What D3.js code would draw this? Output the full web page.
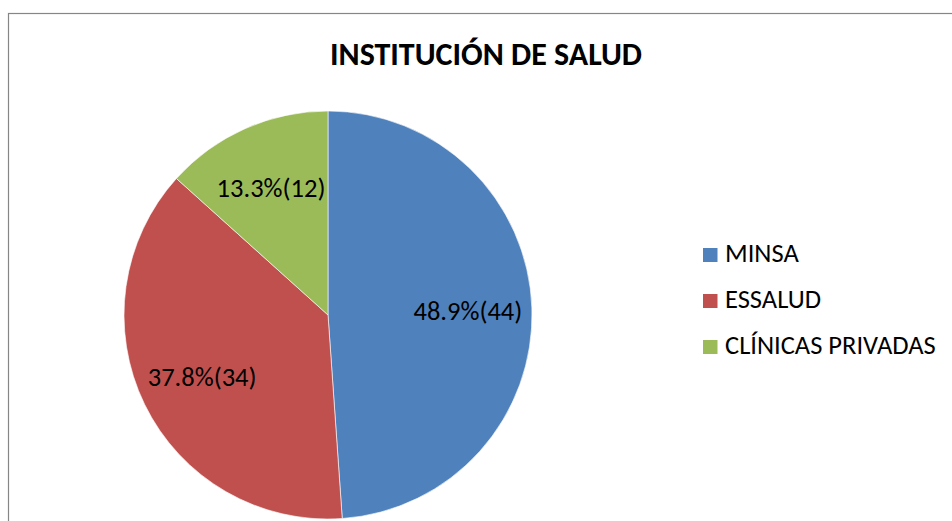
<!DOCTYPE html>
<html>
<head>
<meta charset="utf-8">
<script src="https://cdn.jsdelivr.net/npm/d3@7"></script>
<style>
  body { margin: 0; background: #fff; }
  svg { display: block; font-family: Carlito, Calibri, Lato, sans-serif; }
</style>
</head>
<body>
<svg width="952" height="521"></svg>
<script>
const categories = ['MINSA', 'ESSALUD', 'CLÍNICAS PRIVADAS'];
const counts = [44, 34, 12];
const percents = ['48.9%', '37.8%', '13.3%'];
const colors = ['#4F81BD', '#C0504D', '#9BBB59'];

let svg = d3.select('svg');

// chart frame
svg.append('rect')
    .attr('x', 8.5)
    .attr('y', 13.5)
    .attr('width', 960)
    .attr('height', 520)
    .attr('fill', '#fff')
    .attr('stroke', '#868686')
    .attr('stroke-width', 1.2);

svg.append('text')
    .attr('x', 486)
    .attr('y', 65)
    .attr('text-anchor', 'middle')
    .style('font-weight', 'bold')
    .style('font-size', '32px')
    .text('INSTITUCIÓN DE SALUD');

let data = categories.map((c, i) => ({name: c, value: counts[i], pct: percents[i], color: colors[i]}));

let radius = 204,
    pie = d3.pie().sort(null).value(d => d.value),
    arc = d3.arc().innerRadius(0).outerRadius(radius),
    label = d3.arc().innerRadius(140).outerRadius(140);

let piechart = svg.append('g')
    .attr('transform', 'translate(328,315)');

let arcs = piechart.selectAll()
    .data(pie(data))
    .enter()
    .append('g');

arcs.append('path')
    .attr('d', arc)
    .attr('fill', d => d.data.color)
    .attr('stroke', '#fff')
    .attr('stroke-width', 0.6);

arcs.append('text')
    .attr('transform', d => {
        let c = label.centroid(d);
        return `translate(${c[0]}, ${c[1]})`;
    })
    .attr('text-anchor', 'middle')
    .attr('dy', '0.36em')
    .style('font-size', '26.5px')
    .text(d => `${d.data.pct}(${d.data.value})`);

// legend
let legendG = svg.selectAll('.legend')
    .data(data)
    .enter()
    .append('g')
    .attr('class', 'legend')
    .attr('transform', (d, i) => `translate(703,${248 + i * 46})`);

legendG.append('rect')
    .attr('width', 14.5)
    .attr('height', 14)
    .attr('fill', d => d.color);

legendG.append('text')
    .attr('x', 22)
    .attr('y', 14)
    .style('font-size', '26.5px')
    .text(d => d.name);
</script>
</body>
</html>
